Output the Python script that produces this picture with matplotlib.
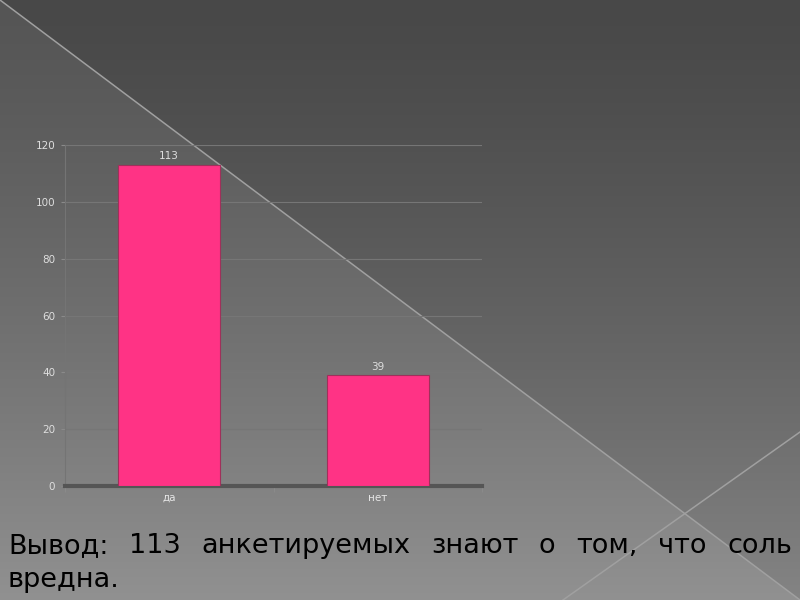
import numpy as np
import matplotlib.pyplot as plt

categories = ['да', 'нет']
values = [113, 39]
y_ticks = [0, 20, 40, 60, 80, 100, 120]
line1 = ['Вывод:', '113', 'анкетируемых', 'знают', 'о', 'том,', 'что', 'соль']
line2 = 'вредна.'

W, H = 800, 600
fig = plt.figure(figsize=(8, 6), dpi=100)

# slide background: vertical gradient + lighter lower-left triangle + thin lines
bg = fig.add_axes([0, 0, 1, 1], zorder=0)
yy, xx = np.mgrid[0:H, 0:W]
shade = 0x48 + (0x84 - 0x48) * (yy / H) ** 1.3
shade = shade + np.where(yy > xx * 0.75, 13, 0)
shade = np.clip(shade, 0, 255) / 255.0
bg.imshow(np.dstack([shade] * 3), extent=[0, W, H, 0], aspect='auto')
bg.plot([0, 800], [0, 600], color='#a0a0a0', lw=1.1)
bg.plot([800, 563], [432, 600], color='#a0a0a0', lw=1.1)
bg.set_xlim(0, W)
bg.set_ylim(H, 0)
bg.axis('off')

# chart
ax = fig.add_axes([65 / W, 1 - 486 / H, (482 - 65) / W, (486 - 145) / H], zorder=1)
ax.patch.set_alpha(0)
x = np.arange(len(categories))
bars = ax.bar(x, values, width=0.49, color='#ff3385', edgecolor='#a0305a', lw=0.8, zorder=3)
for b, v in zip(bars, values):
    ax.text(b.get_x() + b.get_width() / 2, v + 1.2, str(v), ha='center', va='bottom',
            fontsize=7.5, color='#dedede')
ax.set_xlim(-0.5, len(categories) - 0.5)
ax.set_ylim(0, 120)
ax.set_yticks(y_ticks)
ax.set_xticks(x)
ax.set_xticklabels(categories)
ax.set_xticks([-0.5, 0.5, 1.5], minor=True)
ax.tick_params(axis='y', colors='#8a8a8a', labelcolor='#dedede', labelsize=7.5,
               length=3, width=0.8, pad=4)
ax.tick_params(axis='x', which='major', length=0, labelcolor='#e6e6e6', labelsize=7.5, pad=5)
ax.tick_params(axis='x', which='minor', length=4, color='#8a8a8a', width=0.8)
ax.grid(axis='y', color='#767676', lw=0.8, zorder=0)
for s in ['top', 'right']:
    ax.spines[s].set_visible(False)
ax.spines['left'].set_color('#747474')
ax.spines['left'].set_linewidth(0.8)
ax.spines['bottom'].set_color('#555555')
ax.spines['bottom'].set_linewidth(3)

# justified conclusion text
fs = 19.5
left, right = 8, 792
fig.canvas.draw()
renderer = fig.canvas.get_renderer()
words = [fig.text(0, 1 - 553 / H, w, fontsize=fs, color='black', va='baseline', zorder=5)
         for w in line1]
widths = [t.get_window_extent(renderer).width for t in words]
gap = (right - left - sum(widths)) / (len(words) - 1)
pos = left
for t, w in zip(words, widths):
    t.set_x(pos / W)
    pos += w + gap
fig.text(left / W, 1 - 587 / H, line2, fontsize=fs, color='black', va='baseline', zorder=5)

fig.savefig('out.png', dpi=100)
